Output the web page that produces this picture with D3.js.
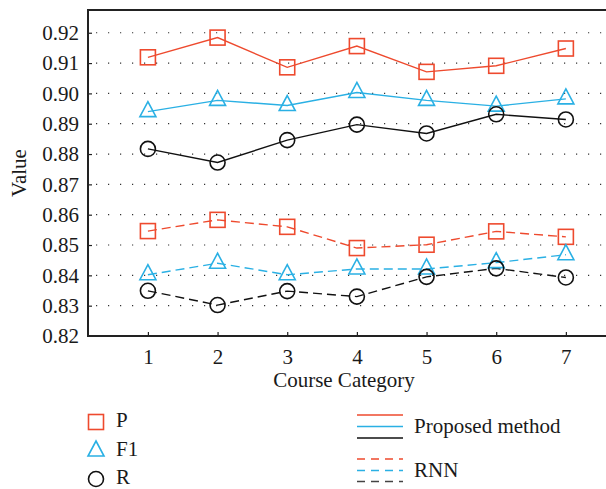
<!DOCTYPE html>
<html>
<head>
<meta charset="utf-8">
<script src="https://cdn.jsdelivr.net/npm/d3@7"></script>
<style>
  body { margin: 0; padding: 0; background: #fff; }
  svg { display: block; }
</style>
</head>
<body>
<div id="chart"></div>
<script>
const categories = [1, 2, 3, 4, 5, 6, 7]
const yTicks = [0.82, 0.83, 0.84, 0.85, 0.86, 0.87, 0.88, 0.89, 0.90, 0.91, 0.92]

const proposedP = [0.9119, 0.9184, 0.9086, 0.9156, 0.9071, 0.9091, 0.9148]
const proposedF1 = [0.8940, 0.8977, 0.8960, 0.9003, 0.8977, 0.8958, 0.8982]
const proposedR = [0.8817, 0.8772, 0.8846, 0.8897, 0.8868, 0.8931, 0.8914]
const rnnP = [0.8546, 0.8583, 0.8560, 0.8490, 0.8501, 0.8545, 0.8527]
const rnnF1 = [0.8402, 0.8440, 0.8402, 0.8421, 0.8421, 0.8442, 0.8468]
const rnnR = [0.8349, 0.8302, 0.8348, 0.8330, 0.8395, 0.8423, 0.8393]

const red = '#ee4a2e'
const cyan = '#2ab0e4'
const black = '#111'
const font = 'Liberation Serif'
const fontSize = '21px'

const series = [
  {values: proposedP, color: red, marker: 'square', dash: null},
  {values: proposedF1, color: cyan, marker: 'triangle', dash: null},
  {values: proposedR, color: black, marker: 'circle', dash: null},
  {values: rnnP, color: red, marker: 'square', dash: '9,5'},
  {values: rnnF1, color: cyan, marker: 'triangle', dash: '9,5'},
  {values: rnnR, color: black, marker: 'circle', dash: '9,5'}
]

const width = 606
const height = 489
const margin = {top: 10, right: 6, bottom: 153, left: 88}

const svg = d3.select('#chart').append('svg')
  .attr('width', width)
  .attr('height', height)

const x = d3.scaleLinear()
  .domain([0.14, 7.49])
  .range([margin.left, width - margin.right])
const y = d3.scaleLinear()
  .domain([0.82, 0.9275])
  .range([height - margin.bottom, margin.top])

function label (sel) {
  return sel.style('font-family', font)
    .style('font-size', fontSize)
    .attr('fill', '#1a1a1a')
}

// dotted grid
svg.append('g')
  .selectAll('line')
  .data(yTicks.slice(1))
  .enter()
  .append('line')
  .attr('x1', margin.left)
  .attr('x2', width)
  .attr('y1', d => y(d))
  .attr('y2', d => y(d))
  .attr('stroke', '#333')
  .attr('stroke-width', 1.2)
  .attr('stroke-dasharray', '1.2,10.8')
  .attr('stroke-dashoffset', -8)

// axes, ticks inward
const yAxis = d3.axisLeft(y).tickValues(yTicks).tickFormat(d3.format('.2f')).tickSize(-4).tickPadding(9)
const xAxis = d3.axisBottom(x).tickValues(categories).tickFormat(d3.format('d')).tickSize(-4).tickPadding(9)

const gy = svg.append('g')
  .attr('transform', `translate(${margin.left},0)`)
  .call(yAxis)
const gx = svg.append('g')
  .attr('transform', `translate(0,${height - margin.bottom})`)
  .call(xAxis)

for (const g of [gx, gy]) {
  g.attr('font-family', font)
  g.select('.domain').remove()
  g.selectAll('.tick line').attr('stroke', '#222').attr('stroke-width', 1.2)
  g.selectAll('.tick text').call(label)
}
gx.selectAll('.tick text').attr('dy', '0.9em')
gy.selectAll('.tick line').filter(d => d === 0.82).remove()

// frame: top, left, bottom (right side is cut by the image edge)
svg.append('path')
  .attr('d', `M${width + 2},${margin.top}H${margin.left}V${height - margin.bottom}H${width + 2}`)
  .attr('fill', 'none')
  .attr('stroke', '#222')
  .attr('stroke-width', 2)

// lines
const line = d3.line()
  .x((d, i) => x(categories[i]))
  .y(d => y(d))

svg.append('g')
  .selectAll('path')
  .data(series)
  .enter()
  .append('path')
  .attr('d', d => line(d.values))
  .attr('fill', 'none')
  .attr('stroke', d => d.color)
  .attr('stroke-width', 1.4)
  .attr('stroke-dasharray', d => d.dash)

function drawMarker (g, type, color, cx, cy) {
  if (type === 'square') {
    g.append('rect')
      .attr('x', cx - 7.5).attr('y', cy - 7.5)
      .attr('width', 15).attr('height', 15)
      .attr('fill', 'none').attr('stroke', color).attr('stroke-width', 1.6)
  } else if (type === 'triangle') {
    g.append('path')
      .attr('d', `M${cx},${cy - 10}L${cx + 8},${cy + 5}L${cx - 8},${cy + 5}Z`)
      .attr('fill', 'none').attr('stroke', color).attr('stroke-width', 1.6)
  } else {
    g.append('circle')
      .attr('cx', cx).attr('cy', cy).attr('r', 7.5)
      .attr('fill', 'none').attr('stroke', color).attr('stroke-width', 1.6)
  }
}

const markers = svg.append('g')
series.forEach(s => {
  s.values.forEach((v, i) => drawMarker(markers, s.marker, s.color, x(categories[i]), y(v)))
})

// axis titles
svg.append('text')
  .attr('x', (margin.left + width - margin.right) / 2)
  .attr('y', 387)
  .attr('text-anchor', 'middle')
  .call(label)
  .text('Course Category')

svg.append('text')
  .attr('transform', `translate(26,${(margin.top + height - margin.bottom) / 2}) rotate(-90)`)
  .attr('text-anchor', 'middle')
  .call(label)
  .text('Value')

// marker legend
const markerLegend = [
  {label: 'P', marker: 'square', color: red, y: 422},
  {label: 'F1', marker: 'triangle', color: cyan, y: 451},
  {label: 'R', marker: 'circle', color: black, y: 479}
]
const ml = svg.append('g')
markerLegend.forEach(d => {
  drawMarker(ml, d.marker, d.color, 96, d.y)
  ml.append('text')
    .attr('x', 116)
    .attr('y', d.y)
    .attr('dy', '0.25em')
    .call(label)
    .text(d.label)
})

// line style legend
const lineLegend = [
  {label: 'Proposed method', dash: null, ys: [415, 426.5, 438], colors: [red, cyan, black]},
  {label: 'RNN', dash: '8,6', ys: [459, 470.5, 481.5], colors: [red, cyan, '#444']}
]
const ll = svg.append('g')
lineLegend.forEach(d => {
  d.ys.forEach((ly, i) => {
    ll.append('line')
      .attr('x1', 357).attr('x2', 403)
      .attr('y1', ly).attr('y2', ly)
      .attr('stroke', d.colors[i])
      .attr('stroke-width', 1.4)
      .attr('stroke-dasharray', d.dash)
  })
  ll.append('text')
    .attr('x', 414)
    .attr('y', d.ys[1])
    .attr('dy', '0.3em')
    .call(label)
    .text(d.label)
})
</script>
</body>
</html>
